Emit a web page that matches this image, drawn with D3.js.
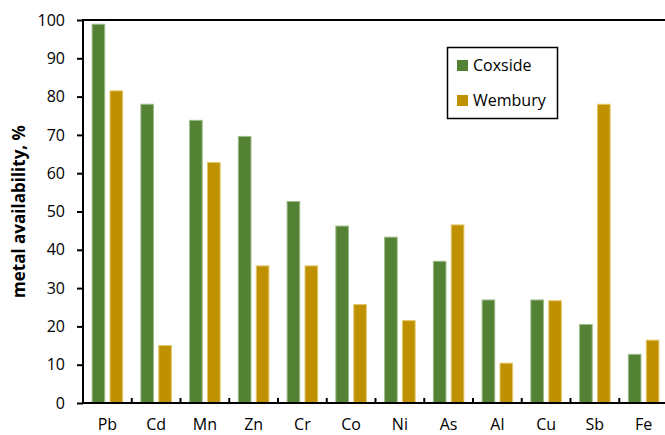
<!DOCTYPE html>
<html>
<head>
<meta charset="utf-8">
<script src="https://cdn.jsdelivr.net/npm/d3@7"></script>
<style>
  body { margin: 0; background: #fff; }
  svg { display: block; font-family: "Open Sans", "Liberation Sans", sans-serif; }
</style>
</head>
<body>
<svg id="chart" width="665" height="435"></svg>
<script>
var metals = ["Pb", "Cd", "Mn", "Zn", "Cr", "Co", "Ni", "As", "Al", "Cu", "Sb", "Fe"];
var coxside = [98.9, 78.0, 73.8, 69.6, 52.6, 46.2, 43.3, 37.0, 26.9, 26.9, 20.5, 12.7];
var wembury = [81.5, 15.0, 62.8, 35.8, 35.8, 25.7, 21.5, 46.5, 10.4, 26.7, 78.0, 16.4];
var yTicks = [0, 10, 20, 30, 40, 50, 60, 70, 80, 90, 100];
var seriesNames = ["Coxside", "Wembury"];
var colors = {Coxside: "#548235", Wembury: "#bf9000"};
var edges = {Coxside: "#9dbb8a", Wembury: "#e2c76a"};

var svg = d3.select("#chart");
var plotL = 83, plotR = 668, plotT = 20, plotB = 403;

var x = d3.scaleBand().domain(metals).range([plotL, plotR]).padding(0);
var xs = d3.scaleBand().domain(seriesNames).range([0, x.bandwidth()])
  .paddingInner(0.24).paddingOuter(0.48);
var y = d3.scaleLinear().domain([0, 100]).range([plotB, plotT]);

var rows = metals.map(function(m, i){
  return {metal: m, values: [
    {name: "Coxside", value: coxside[i]},
    {name: "Wembury", value: wembury[i]}
  ]};
});

// bars
svg.append("g").selectAll("g")
  .data(rows)
  .enter().append("g")
  .attr("transform", function(d){ return "translate(" + x(d.metal) + ",0)"; })
  .selectAll("rect")
  .data(function(d){ return d.values; })
  .enter().append("rect")
  .attr("x", function(d){ return xs(d.name) + 0.5; })
  .attr("width", xs.bandwidth() - 1)
  .attr("y", function(d){ return y(d.value); })
  .attr("height", function(d){ return plotB - y(d.value); })
  .style("fill", function(d){ return colors[d.name]; })
  .style("stroke", function(d){ return edges[d.name]; })
  .style("stroke-width", 1);

// y axis
var yAxis = svg.append("g")
  .attr("transform", "translate(" + plotL + ",0)")
  .call(d3.axisLeft(y).tickValues(yTicks).tickSize(6).tickPadding(12));
yAxis.select(".domain").remove();
yAxis.selectAll("line").attr("stroke", "#000").attr("stroke-width", 2);
yAxis.selectAll("text").style("font-size", "16px").attr("fill", "#000")
  .style("font-family", "'Open Sans', sans-serif");

// x axis labels
var xAxis = svg.append("g")
  .attr("transform", "translate(0," + plotB + ")")
  .call(d3.axisBottom(x).tickSize(0).tickPadding(16));
xAxis.select(".domain").remove();
xAxis.selectAll("text").style("font-size", "16px").attr("fill", "#000")
  .style("font-family", "'Open Sans', sans-serif");

// category boundary ticks (pointing up)
svg.append("g").selectAll("line")
  .data(metals.slice(1))
  .enter().append("line")
  .attr("x1", function(d){ return x(d); })
  .attr("x2", function(d){ return x(d); })
  .attr("y1", plotB)
  .attr("y2", plotB - 5)
  .attr("stroke", "#000")
  .attr("stroke-width", 2);

// frame
svg.append("rect")
  .attr("x", plotL).attr("y", plotT)
  .attr("width", plotR - plotL).attr("height", plotB - plotT)
  .attr("fill", "none").attr("stroke", "#000").attr("stroke-width", 2);

// y label
svg.append("text")
  .attr("transform", "translate(25," + ((plotT + plotB) / 2) + ") rotate(-90)")
  .attr("text-anchor", "middle")
  .style("font-size", "17px")
  .style("font-weight", "bold")
  .text("metal availability, %");

// legend
var legend = svg.append("g");
legend.append("rect")
  .attr("x", 447.5).attr("y", 47.5).attr("width", 110).attr("height", 71)
  .attr("fill", "#fff").attr("stroke", "#000").attr("stroke-width", 1.5);
seriesNames.forEach(function(name, i){
  legend.append("rect")
    .attr("x", 457).attr("y", 60 + i * 35).attr("width", 11).attr("height", 11)
    .style("fill", colors[name]);
  legend.append("text")
    .attr("x", 473).attr("y", 71 + i * 35)
    .style("font-size", "16px")
    .text(name);
});
</script>
</body>
</html>
